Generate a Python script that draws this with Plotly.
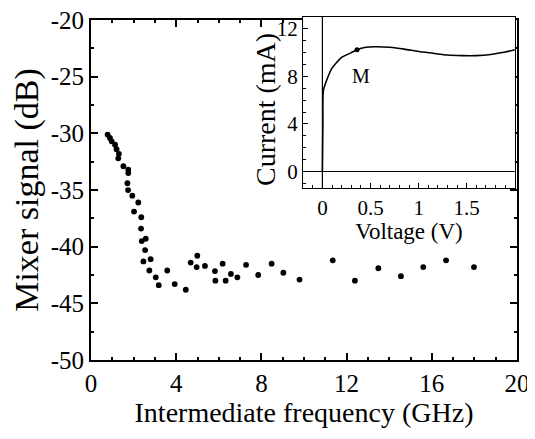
import plotly.graph_objects as go

# Main scatter: intermediate frequency (GHz) vs mixer signal (dB)
freq_ghz = [0.78, 0.89, 0.97, 1.13, 1.20, 1.31, 1.28, 1.52, 1.75, 1.75, 1.71, 1.74,
            1.94, 2.22, 2.02, 2.36, 2.35, 2.57, 2.38, 2.54, 2.46, 2.80, 2.74, 3.58,
            3.04, 3.18, 3.93, 4.45, 4.68, 4.99, 4.96, 5.35, 5.82, 5.84, 6.18, 6.32,
            6.57, 6.87, 7.28, 7.85, 8.48, 9.03, 9.79, 11.35, 12.39, 13.49, 14.55,
            15.60, 16.67, 17.98]
mixer_db = [-30.1, -30.4, -30.7, -31.0, -31.4, -31.8, -32.2, -32.9, -33.2, -33.5, -34.4, -35.0,
            -35.5, -36.1, -36.9, -37.4, -38.4, -39.3, -39.5, -40.3, -41.3, -41.1, -42.1, -42.1,
            -42.7, -43.4, -43.3, -43.8, -41.4, -40.8, -41.8, -41.7, -42.15, -43.0, -41.5, -43.0,
            -42.4, -42.7, -41.6, -42.5, -41.5, -42.3, -42.9, -41.2, -43.0, -41.9, -42.6,
            -41.8, -41.2, -41.8]

# Inset I-V curve
voltage_v = [0, 0.005, 0.01, 0.05, 0.1, 0.15, 0.2, 0.3, 0.36, 0.45, 0.55, 0.7, 0.85,
             1.0, 1.15, 1.3, 1.45, 1.6, 1.75, 1.9, 2.0]
current_ma = [0, 4.0, 6.8, 7.8, 8.7, 9.2, 9.6, 10.0, 10.25, 10.45, 10.5, 10.45, 10.3,
              10.1, 9.95, 9.8, 9.75, 9.75, 9.85, 10.05, 10.25]
point_m = (0.36, 10.25)
label_m = "M"

x_ticks = [0, 4, 8, 12, 16, 20]
x_ticklabels = ["0", "4", "8", "12", "16", "20"]
y_ticks = [-50, -45, -40, -35, -30, -25, -20]
y_ticklabels = ["-50", "-45", "-40", "-35", "-30", "-25", "-20"]
ix_ticks = [0, 0.5, 1, 1.5]
ix_ticklabels = ["0", "0.5", "1", "1.5"]
iy_ticks = [0, 4, 8, 12]
iy_ticklabels = ["0", "4", "8", "12"]

x_range = [0, 20]
y_range = [-50, -20]
ix_range = [-0.2, 2.0]
iy_range = [-1.4, 13.0]

FONT = "Liberation Serif, Times New Roman, serif"

fig = go.Figure()
fig.add_trace(go.Scatter(x=freq_ghz, y=mixer_db, mode="markers",
                         marker=dict(color="black", size=5.8),
                         xaxis="x", yaxis="y", showlegend=False))

fig.add_trace(go.Scatter(x=voltage_v, y=current_ma, mode="lines",
                         line=dict(color="black", width=1.6, shape="spline", smoothing=0.6),
                         xaxis="x2", yaxis="y2", showlegend=False))
fig.add_trace(go.Scatter(x=[point_m[0]], y=[point_m[1]], mode="markers",
                         marker=dict(color="black", size=5),
                         xaxis="x2", yaxis="y2", showlegend=False))

axis_common = dict(showgrid=False, zeroline=False, showline=True, linecolor="black",
                   ticks="inside", tickcolor="black", color="black", automargin=False,
                   ticklabeloverflow="allow")

# page body has an 8px default margin, so the figure is sized to fit the window
fig.update_layout(
    width=527, height=431,
    margin=dict(l=83, r=18, t=9, b=79),
    paper_bgcolor="white", plot_bgcolor="white",
    font=dict(family=FONT, color="black"),
    xaxis=dict(**axis_common, domain=[0, 1], range=x_range, linewidth=1.8,
               tickvals=x_ticks, ticktext=x_ticklabels, ticklen=7, tickwidth=1.5,
               mirror="allticks", tickfont=dict(size=25, family=FONT),
               minor=dict(ticks="inside", dtick=1, ticklen=3.5, tickcolor="black"),
               title=dict(text="Intermediate frequency (GHz)", font=dict(size=28, family=FONT),
                          standoff=5),
               anchor="y"),
    yaxis=dict(**axis_common, domain=[0, 0.991], range=y_range, linewidth=1.8,
               tickvals=y_ticks, ticktext=y_ticklabels, ticklen=7, tickwidth=1.5,
               mirror="allticks", tickfont=dict(size=25, family=FONT),
               minor=dict(ticks="inside", dtick=2.5, ticklen=3.5, tickcolor="black"),
               title=dict(text="Mixer signal (dB)", font=dict(size=34, family=FONT),
                          standoff=6),
               anchor="x"),
    xaxis2=dict(**axis_common, domain=[0.498, 0.995], range=ix_range, linewidth=1.3,
                tickvals=ix_ticks, ticktext=ix_ticklabels, ticklen=5, tickwidth=1.2,
                mirror=True, tickfont=dict(size=21, family=FONT),
                minor=dict(ticks="inside", dtick=0.1, ticklen=3, tickcolor="black"),
                title=dict(text="Voltage (V)", font=dict(size=23, family=FONT), standoff=2),
                anchor="y2"),
    yaxis2=dict(**axis_common, domain=[0.501, 1.0], range=iy_range, linewidth=1.3,
                tickvals=iy_ticks, ticktext=iy_ticklabels, ticklen=5, tickwidth=1.2,
                mirror=True, tickfont=dict(size=21, family=FONT),
                minor=dict(ticks="inside", dtick=1, ticklen=3, tickcolor="black"),
                anchor="x2"),
    shapes=[
        dict(type="rect", xref="x2", yref="y2", x0=ix_range[0], x1=ix_range[1],
             y0=iy_range[0], y1=iy_range[1], fillcolor="white", line=dict(width=0),
             layer="below"),
        dict(type="line", xref="x2", yref="y2", x0=0, x1=0, y0=iy_range[0], y1=iy_range[1],
             line=dict(color="black", width=1.2)),
        dict(type="line", xref="x2", yref="y2", x0=ix_range[0], x1=ix_range[1], y0=0, y1=0,
             line=dict(color="black", width=1.2)),
    ],
    annotations=[
        dict(x=0.40, y=8.0, xref="x2", yref="y2", text=label_m, showarrow=False,
             font=dict(size=20, family=FONT, color="black")),
        dict(x=0.411, y=0.729, xref="paper", yref="paper", text="Current (mA)",
             textangle=-90, showarrow=False, xanchor="center", yanchor="middle",
             font=dict(size=28, family=FONT, color="black")),
    ],
)

fig.write_html("out.html")
